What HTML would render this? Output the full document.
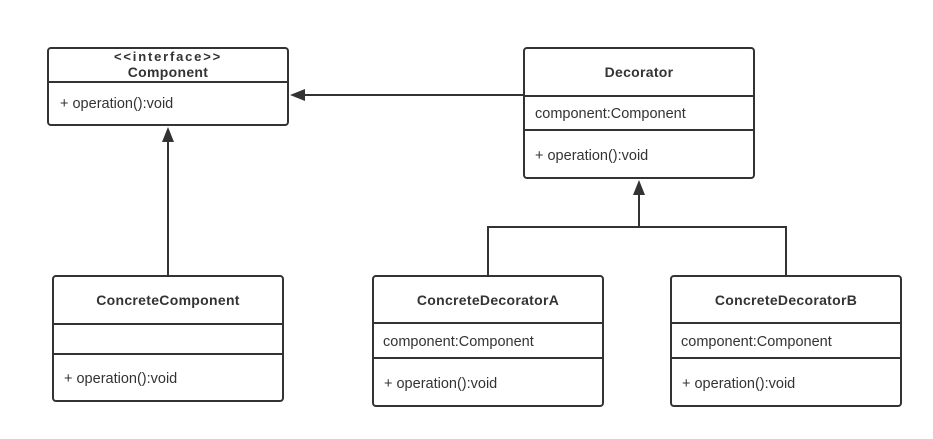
<!DOCTYPE html>
<html><head><meta charset="utf-8"><style>
html,body{margin:0;padding:0;background:#fff;}
svg{display:block;}
text{font-family:"Liberation Sans","DejaVu Sans",sans-serif;font-size:14.5px;fill:#333;}
.b{font-weight:bold;text-anchor:middle;font-size:14px;letter-spacing:0.3px;}
</style></head><body>
<svg width="933" height="439" viewBox="0 0 933 439" xmlns="http://www.w3.org/2000/svg">
<g fill="#fff" stroke="#333" stroke-width="2">
<rect x="48" y="48" width="240" height="77" rx="3"/>
<line x1="48" y1="82" x2="288" y2="82"/>
<rect x="524" y="48" width="230" height="130" rx="3"/>
<line x1="524" y1="96" x2="754" y2="96"/>
<line x1="524" y1="130" x2="754" y2="130"/>
<rect x="53" y="276" width="230" height="125" rx="3"/>
<line x1="53" y1="324" x2="283" y2="324"/>
<line x1="53" y1="354" x2="283" y2="354"/>
<rect x="373" y="276" width="230" height="130" rx="3"/>
<line x1="373" y1="323" x2="603" y2="323"/>
<line x1="373" y1="358" x2="603" y2="358"/>
<rect x="671" y="276" width="230" height="130" rx="3"/>
<line x1="671" y1="323" x2="901" y2="323"/>
<line x1="671" y1="358" x2="901" y2="358"/>
</g>
<g stroke="#333" stroke-width="2" fill="none">
<line x1="524" y1="95" x2="304" y2="95"/>
<line x1="168" y1="276" x2="168" y2="141"/>
<polyline points="488,276 488,227 786,227 786,276"/>
<line x1="639" y1="227" x2="639" y2="194"/>
</g>
<g fill="#333">
<polygon points="290,95 305,89 305,101"/>
<polygon points="168,127 162,142 174,142"/>
<polygon points="639,180 633,195 645,195"/>
</g>
<text class="b" x="168" y="61" style="font-size:13px;letter-spacing:1.8px">&lt;&lt;interface&gt;&gt;</text>
<text class="b" x="168" y="77">Component</text>
<text x="60" y="108">+ operation():void</text>
<text class="b" x="639" y="77">Decorator</text>
<text x="535" y="118">component:Component</text>
<text x="535" y="160">+ operation():void</text>
<text class="b" x="168" y="305">ConcreteComponent</text>
<text x="64" y="383">+ operation():void</text>
<text class="b" x="488" y="305">ConcreteDecoratorA</text>
<text x="383" y="346">component:Component</text>
<text x="384" y="388">+ operation():void</text>
<text class="b" x="786" y="305">ConcreteDecoratorB</text>
<text x="681" y="346">component:Component</text>
<text x="682" y="388">+ operation():void</text>
</svg>
</body></html>
